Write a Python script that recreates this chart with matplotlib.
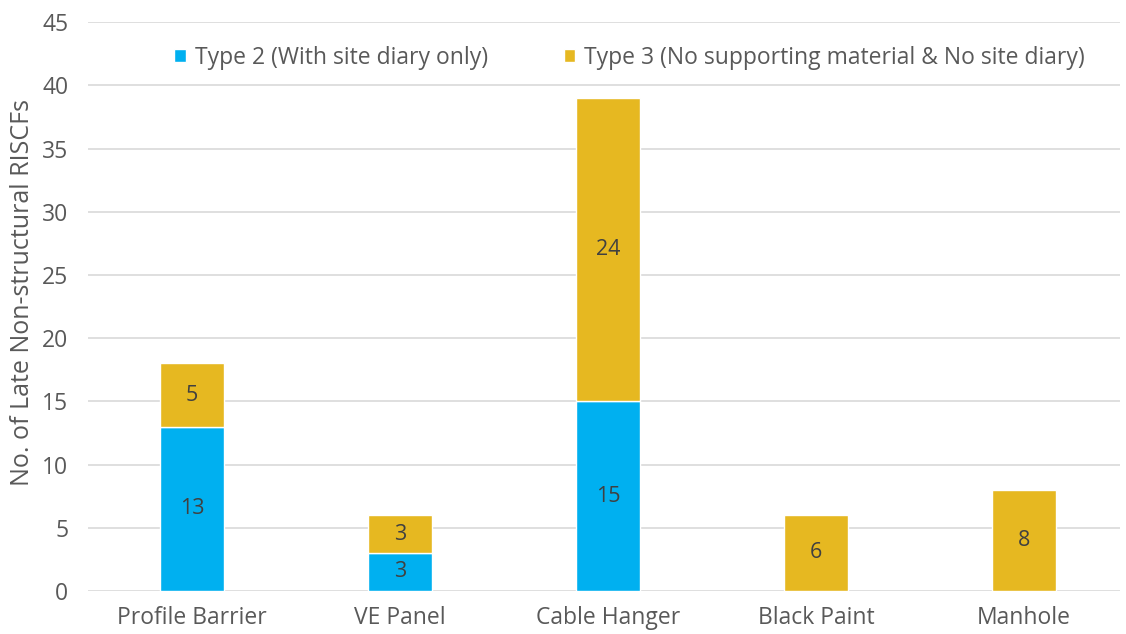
import numpy as np
import matplotlib
matplotlib.use("Agg")
import matplotlib.pyplot as plt

# datos
categorias = ["Profile Barrier", "VE Panel", "Cable Hanger", "Black Paint", "Manhole"]
tipo2 = [13, 3, 15, 0, 0]
tipo3 = [5, 3, 24, 6, 8]
nombre_t2 = "Type 2 (With site diary only)"
nombre_t3 = "Type 3 (No supporting material & No site diary)"

plt.rcParams["font.family"] = ["Open Sans", "DejaVu Sans"]
gris = "#595959"

fig = plt.figure(figsize=(11.26, 6.34), dpi=100)
ax = fig.add_axes([0.078, 0.068, 0.9165, 0.897])

x = np.arange(len(categorias))
w = 0.31
ax.bar(x, tipo2, w, color="#00B0F0", edgecolor="white", linewidth=1, label=nombre_t2, zorder=3)
ax.bar(x, tipo3, w, bottom=tipo2, color="#E6B821", edgecolor="white", linewidth=1, label=nombre_t3, zorder=3)

for i in range(len(categorias)):
    if tipo2[i] > 0:
        ax.text(x[i], tipo2[i] / 2, str(tipo2[i]), ha="center", va="center", fontsize=15.5, color="#404040", zorder=4)
    if tipo3[i] > 0:
        ax.text(x[i], tipo2[i] + tipo3[i] / 2, str(tipo3[i]), ha="center", va="center", fontsize=15.5, color="#404040", zorder=4)

ax.set_ylim(0, 45)
ax.set_yticks(range(0, 46, 5))
ax.set_xlim(-0.5, 4.46)
ax.set_xticks(x)
ax.set_xticklabels(categorias)
ax.yaxis.grid(True, color="#D9D9D9", linewidth=1.2, zorder=0)
ax.set_axisbelow(True)
for s in ax.spines.values():
    s.set_visible(False)
ax.tick_params(axis="both", length=0, labelsize=16.5, colors=gris)
ax.tick_params(axis="x", pad=11)
ax.tick_params(axis="y", pad=14)
ax.set_ylabel("No. of Late Non-structural RISCFs", fontsize=18, color=gris)
ax.yaxis.set_label_coords(-0.051, 0.525)

ax.legend(loc="upper center", bbox_to_anchor=(0.525, 0.995), ncol=2, frameon=False,
          fontsize=16.5, labelcolor=gris, handlelength=0.5, handleheight=0.5,
          handletextpad=0.4, columnspacing=3.3)

fig.savefig("out.png", dpi=100)
